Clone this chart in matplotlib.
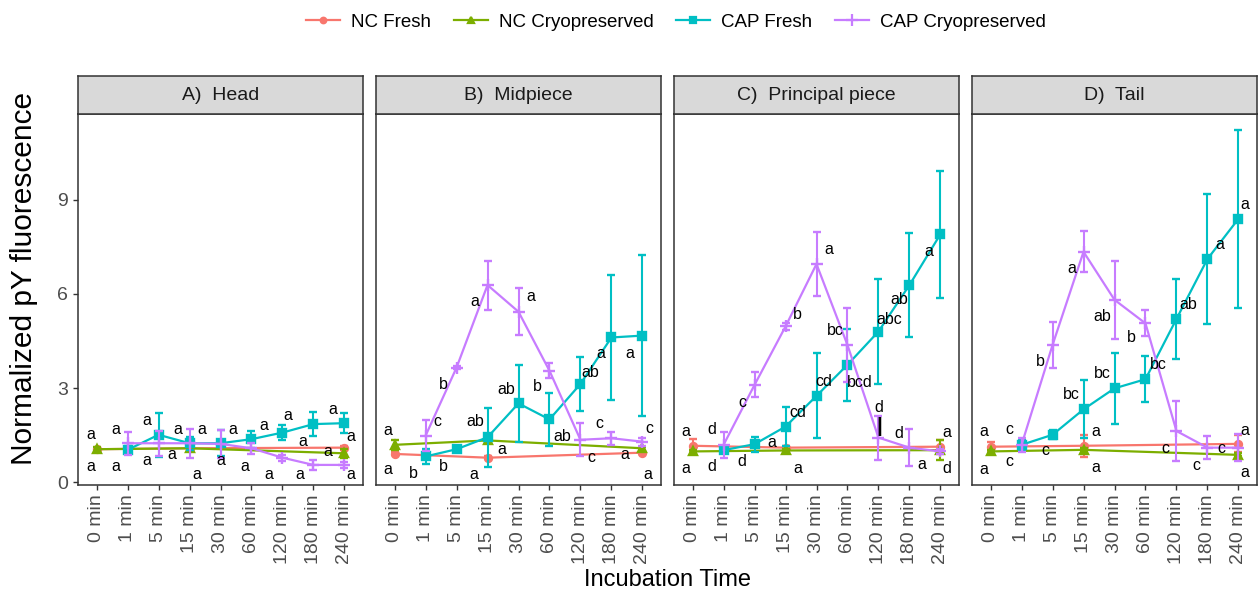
import matplotlib
matplotlib.use("Agg")
import matplotlib.pyplot as plt
from matplotlib.lines import Line2D

plt.rcParams["font.family"] = ["Liberation Sans", "DejaVu Sans"]

W, H = 1258, 595

TIMES = ["0 min", "1 min", "5 min", "15 min", "30 min",
         "60 min", "120 min", "180 min", "240 min"]
PANELS = ["A)  Head", "B)  Midpiece", "C)  Principal piece", "D)  Tail"]
SERIES = ["NC Fresh", "NC Cryopreserved", "CAP Fresh", "CAP Cryopreserved"]
NC_POS = [0, 3, 8]
CAP_POS = [1, 2, 3, 4, 5, 6, 7, 8]

# one row per panel, A..D
NC_FRESH = [
    [1.05, 1.08, 1.10],
    [0.90, 0.78, 0.94],
    [1.16, 1.10, 1.13],
    [1.13, 1.16, 1.22],
]
NC_FRESH_SE = [
    [0.05, 0.04, 0.06],
    [0.05, 0.04, 0.05],
    [0.20, 0.05, 0.21],
    [0.16, 0.35, 0.27],
]
NC_CRYO = [
    [1.05, 1.08, 0.92],
    [1.19, 1.33, 1.08],
    [0.98, 1.01, 1.02],
    [0.98, 1.03, 0.87],
]
NC_CRYO_SE = [
    [0.06, 0.05, 0.15],
    [0.16, 0.06, 0.05],
    [0.05, 0.06, 0.32],
    [0.05, 0.06, 0.05],
]
CAP_FRESH = [
    [1.03, 1.51, 1.24, 1.24, 1.37, 1.58, 1.85, 1.88],
    [0.82, 1.05, 1.43, 2.51, 2.00, 3.13, 4.61, 4.67],
    [1.02, 1.21, 1.77, 2.75, 3.74, 4.80, 6.28, 7.90],
    [1.19, 1.51, 2.32, 2.99, 3.28, 5.20, 7.11, 8.39],
]
CAP_FRESH_SE = [
    [0.12, 0.70, 0.20, 0.42, 0.27, 0.24, 0.39, 0.31],
    [0.24, 0.05, 0.94, 1.22, 0.84, 0.87, 2.00, 2.57],
    [0.10, 0.24, 0.62, 1.35, 1.14, 1.68, 1.66, 2.02],
    [0.20, 0.15, 0.92, 1.14, 0.74, 1.26, 2.06, 2.83],
]
CAP_CRYO = [
    [1.24, 1.24, 1.24, 1.22, 1.08, 0.78, 0.55, 0.55],
    [1.48, 3.65, 6.28, 5.43, 3.55, 1.35, 1.40, 1.29],
    [1.19, 3.10, 4.96, 6.95, 4.37, 1.42, 1.10, 0.98],
    [1.19, 4.37, 7.34, 5.81, 5.06, 1.63, 1.10, 1.10],
]
CAP_CRYO_SE = [
    [0.37, 0.40, 0.46, 0.45, 0.18, 0.10, 0.16, 0.10],
    [0.49, 0.05, 0.78, 0.75, 0.24, 0.52, 0.20, 0.13],
    [0.41, 0.40, 0.10, 1.03, 1.18, 0.70, 0.58, 0.08],
    [0.23, 0.73, 0.65, 1.25, 0.41, 0.96, 0.37, 0.42],
]

# significance letters: (x position in categories, y value, text)
LABELS_A = [
    (-0.2, 1.51, "a"), (-0.2, 0.50, "a"), (0.61, 1.69, "a"), (0.61, 0.50, "a"),
    (1.61, 1.96, "a"), (1.61, 0.69, "a"), (2.63, 1.69, "a"), (2.43, 0.87, "a"),
    (3.24, 0.26, "a"), (3.40, 1.69, "a"), (4.39, 1.69, "a"), (4.00, 0.69, "a"),
    (5.39, 1.79, "a"), (4.79, 0.50, "a"), (6.16, 2.14, "a"), (5.55, 0.26, "a"),
    (6.65, 1.29, "a"), (6.55, 0.26, "a"), (7.61, 2.32, "a"), (7.45, 0.98, "a"),
    (8.22, 1.45, "a"), (8.22, 0.26, "a"),
]
LABELS_B = [
    (-0.21, 1.64, "a"), (-0.21, 0.39, "a"), (1.39, 1.93, "c"), (0.59, 0.29, "b"),
    (1.58, 3.10, "b"), (1.58, 0.50, "b"), (2.59, 5.77, "a"), (2.60, 1.93, "ab"),
    (2.55, 0.26, "a"), (3.45, 1.05, "a"), (4.39, 5.91, "a"), (3.61, 2.96, "ab"),
    (4.60, 3.04, "b"), (5.40, 1.45, "ab"), (6.33, 3.49, "ab"), (6.36, 0.78, "c"),
    (6.66, 4.11, "a"), (6.61, 1.86, "c"), (7.59, 4.11, "a"), (7.43, 0.87, "a"),
    (8.24, 1.72, "c"), (8.18, 0.26, "a"),
]
LABELS_C = [
    (-0.21, 1.61, "a"), (-0.21, 0.45, "a"), (0.61, 1.69, "d"), (0.61, 0.50, "d"),
    (1.60, 2.54, "c"), (1.60, 0.66, "d"), (3.39, 5.35, "b"), (3.39, 2.22, "cd"),
    (2.55, 1.26, "a"), (3.39, 0.45, "a"), (4.39, 7.40, "a"), (4.22, 3.20, "cd"),
    (4.62, 4.83, "bc"), (5.40, 3.17, "bcd"), (6.34, 5.19, "abc"), (6.02, 2.39, "d"),
    (6.68, 5.81, "ab"), (6.65, 1.56, "d"), (7.41, 0.57, "a"), (7.61, 7.34, "a"),
    (8.20, 1.59, "a"), (8.20, 0.45, "d"), (6.02, 1.77, "|"),
]
LABELS_D = [
    (-0.21, 1.61, "a"), (-0.21, 0.39, "a"), (0.61, 1.69, "c"), (0.61, 0.66, "c"),
    (1.60, 3.86, "b"), (1.76, 1.00, "c"), (2.62, 6.81, "a"), (2.60, 2.80, "bc"),
    (3.39, 1.63, "a"), (3.39, 0.48, "a"), (3.61, 5.27, "ab"), (3.61, 3.47, "bc"),
    (4.55, 4.61, "b"), (5.43, 3.76, "bc"), (6.39, 5.67, "ab"), (5.64, 1.08, "c"),
    (7.40, 7.58, "a"), (6.63, 0.53, "c"), (7.45, 1.08, "c"), (8.20, 8.85, "a"),
    (8.20, 1.66, "a"), (8.20, 0.31, "a"),
]
LABELS = [LABELS_A, LABELS_B, LABELS_C, LABELS_D]

COLORS = ["#F8766D", "#7CAE00", "#00BFC4", "#C77CFF"]
MARKERS = ["o", "^", "s", "+"]
MSIZES = [5, 6, 5.5, 9]

PANEL_LEFT = [78, 376, 674, 972]  # px
PANEL_W = 285
PLOT_TOP, PLOT_BOT = 114, 485
STRIP_TOP = 76
YLIM = (-0.09, 11.73)


def fx(px):
    return px / W


def fy(py):
    return 1 - py / H


def draw_series(ax, xs, ys, se, k):
    ax.errorbar(xs, ys, yerr=se, color=COLORS[k], marker=MARKERS[k],
                ms=MSIZES[k], mew=1.7, lw=1.6, elinewidth=1.5,
                capsize=3, capthick=1.5, zorder=3 + k)


def main():
    fig = plt.figure(figsize=(W / 100, H / 100), dpi=100)
    border = "#333333"

    for p in range(4):
        left = PANEL_LEFT[p]
        ax = fig.add_axes([fx(left), fy(PLOT_BOT), fx(PANEL_W),
                           (PLOT_BOT - PLOT_TOP) / H])
        draw_series(ax, NC_POS, NC_FRESH[p], NC_FRESH_SE[p], 0)
        draw_series(ax, NC_POS, NC_CRYO[p], NC_CRYO_SE[p], 1)
        draw_series(ax, CAP_POS, CAP_FRESH[p], CAP_FRESH_SE[p], 2)
        draw_series(ax, CAP_POS, CAP_CRYO[p], CAP_CRYO_SE[p], 3)

        for x, y, txt in LABELS[p]:
            if txt == "|":
                ax.text(x, y, txt, ha="center", va="center", fontsize=15,
                        fontweight="bold", color="black", zorder=10)
            else:
                ax.text(x, y, txt, ha="center", va="center", fontsize=11.5,
                        color="black", zorder=10)

        ax.set_xlim(-0.6, 8.6)
        ax.set_ylim(*YLIM)
        ax.set_xticks(range(len(TIMES)))
        ax.set_xticklabels(TIMES, rotation=90, fontsize=14, color="#4D4D4D")
        if p == 0:
            ax.set_yticks([0, 3, 6, 9])
            ax.tick_params(axis="y", labelsize=14, labelcolor="#4D4D4D",
                           color=border, length=3.5, width=1.0)
        else:
            ax.set_yticks([])
        ax.tick_params(axis="x", color=border, length=3.5, width=1.0, pad=3)
        for sp in ax.spines.values():
            sp.set_color(border)
            sp.set_linewidth(1.1)

        sax = fig.add_axes([fx(left), fy(PLOT_TOP), fx(PANEL_W),
                            (PLOT_TOP - STRIP_TOP) / H])
        sax.set_facecolor("#D9D9D9")
        sax.set_xticks([])
        sax.set_yticks([])
        for sp in sax.spines.values():
            sp.set_color(border)
            sp.set_linewidth(1.1)
        sax.text(0.5, 0.5, PANELS[p], ha="center", va="center",
                 fontsize=14, color="#1A1A1A", transform=sax.transAxes)

    handles = [
        Line2D([], [], color=COLORS[k], marker=MARKERS[k], ms=MSIZES[k] - 1,
               mew=1.6, lw=1.6)
        for k in range(4)
    ]
    fig.legend(handles, SERIES, loc="center", ncol=4, frameon=False,
               bbox_to_anchor=(fx(676), fy(22)), fontsize=13.5,
               handlelength=1.8, columnspacing=1.2, handletextpad=0.6)

    fig.text(fx(668), fy(580), "Incubation Time", ha="center", va="center",
             fontsize=17)
    fig.text(fx(24), fy(278), "Normalized pY fluorescence", ha="center",
             va="center", rotation=90, fontsize=21.5)

    fig.savefig("out.png", dpi=100)


if __name__ == "__main__":
    main()
